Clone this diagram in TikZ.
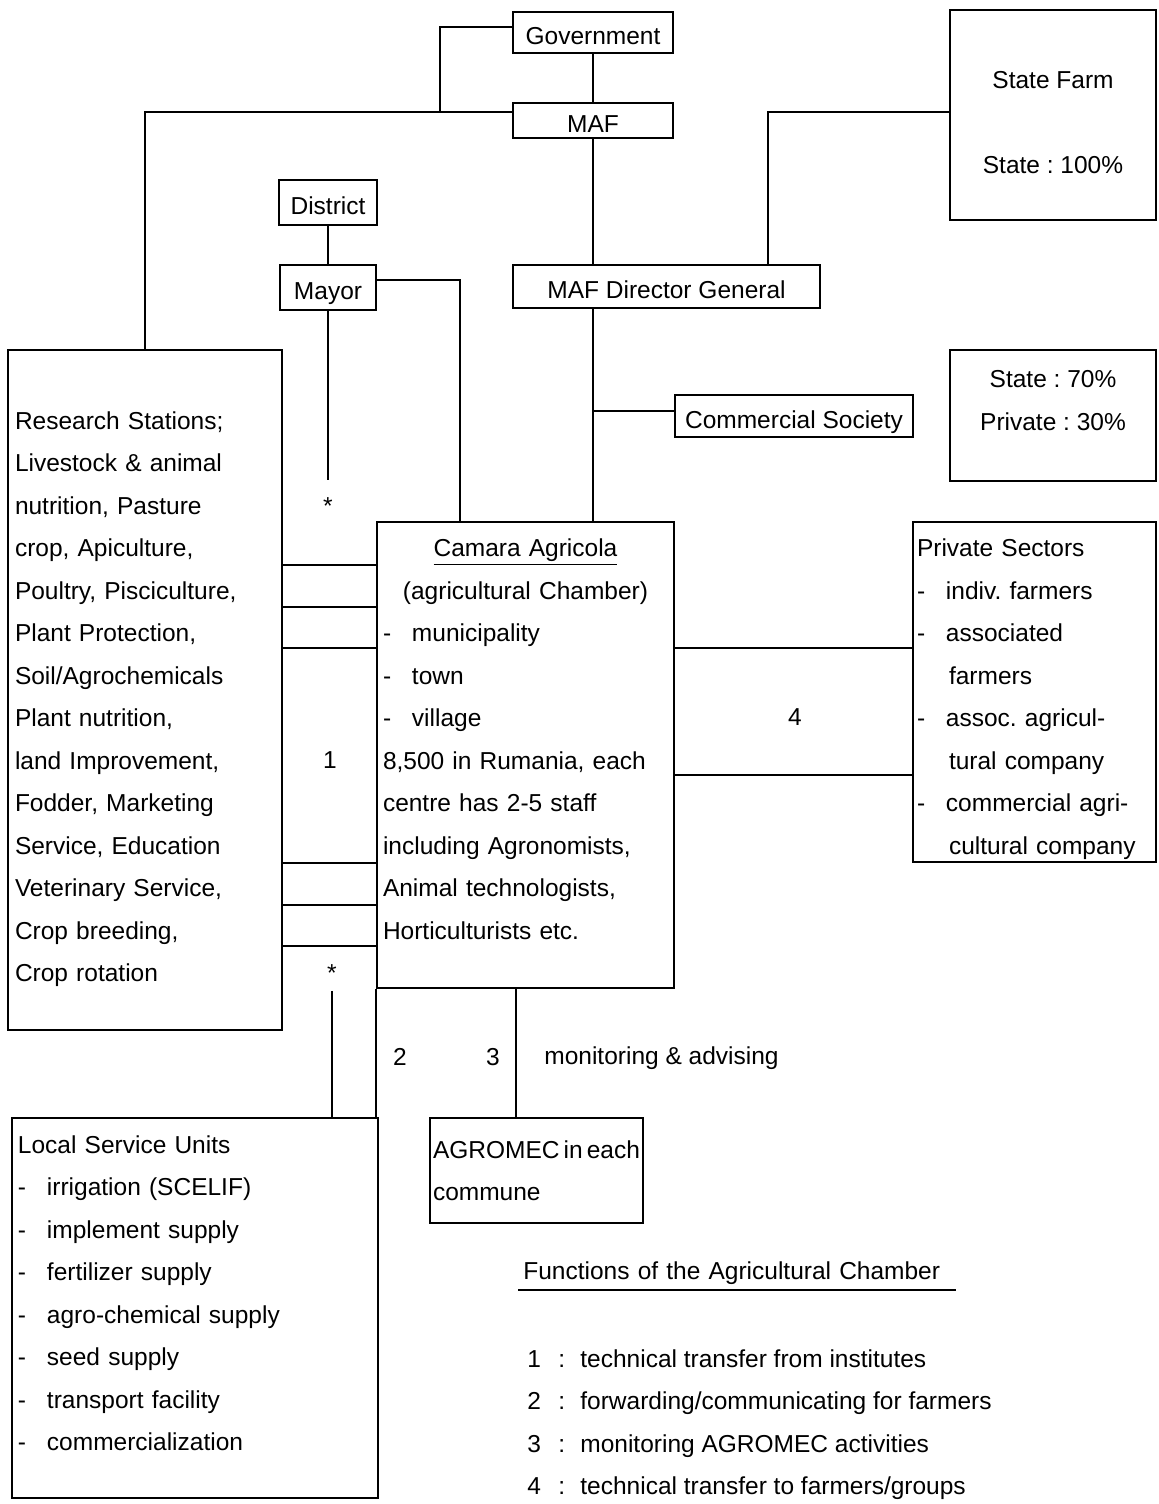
\documentclass[tikz,border=0pt]{standalone}
\usepackage{fontspec}
\setmainfont{Liberation Sans}
\frenchspacing
\usetikzlibrary{positioning,calc}
\newcommand{\chartfont}{\fontsize{12.25pt}{21.25pt}\selectfont\frenchspacing}
\newcommand{\itemdash}{\makebox[14.5pt][l]{-}}
\newcommand{\fnum}[1]{\makebox[15.5pt][l]{#1}\makebox[11pt][l]{:}}
\newcommand{\toppad}[1]{\rule{0pt}{#1}}
\tikzset{
  box/.style={draw,line width=1.2pt,inner sep=0pt,font=\chartfont},
  onebox/.style={box,text height=12pt,text depth=0pt},
  listbox/.style={box,align=left},
  link/.style={line width=0.9pt},
  lbl/.style={font=\chartfont,inner sep=1pt}
}

\begin{document}
\begin{tikzpicture}[x={(0.5pt,0)}, y={(0,-0.5pt)}]
  \useasboundingbox (0,0) rectangle (1158,1504);
  % top of the hierarchy
  \node[onebox,minimum width=80pt,minimum height=20.5pt] (gov) at (593,32.5) {Government};
  \node[onebox,minimum width=80pt,minimum height=17.5pt] (maf) at (593,120.5) {MAF};
  \node[onebox,minimum width=153.5pt,minimum height=21.5pt] (dg) at (666.5,286.5) {MAF Director General};
  \node[box,align=center,minimum width=103pt,minimum height=105pt] (farm) at (1053,115) {\toppad{16.5pt}State Farm\\[21.25pt]State : 100\%};
  \node[box,align=center,minimum width=103pt,minimum height=65.5pt] (share) at (1053,415.5) {\toppad{14.5pt}State : 70\%\\Private : 30\%\\\mbox{}};
  \node[onebox,minimum width=49pt,minimum height=22.5pt] (district) at (328,202.5) {District};
  \node[onebox,minimum width=48pt,minimum height=22.5pt] (mayor) at (328,287.5) {Mayor};
  \node[onebox,minimum width=119pt,minimum height=21pt] (commsoc) at (794,416) {Commercial Society};
  % main boxes
  \node[listbox,minimum width=137pt,minimum height=340pt,text width=130pt,inner xsep=3.5pt] (research) at (145,690) {\toppad{18pt}Research Stations;\\
    Livestock \& animal\\
    nutrition, Pasture\\
    crop, Apiculture,\\
    Poultry, Pisciculture,\\
    Plant Protection,\\
    Soil/Agrochemicals\\
    Plant nutrition,\\
    land Improvement,\\
    Fodder, Marketing\\
    Service, Education\\
    Veterinary Service,\\
    Crop breeding,\\
    Crop rotation};
  \node[listbox,minimum width=148.5pt,minimum height=233pt,text width=142.5pt,inner xsep=3pt] (camara) at (525.5,755) {\toppad{14pt}\makebox[142.5pt]{\underline{Camara Agricola}}\\
    \makebox[142.5pt]{(agricultural Chamber)}\\
    \itemdash municipality\\
    \itemdash town\\
    \itemdash village\\
    8,500 in Rumania, each\\
    centre has 2-5 staff\\
    including Agronomists,\\
    Animal technologists,\\
    Horticulturists etc.\\
    \mbox{}};
  \node[listbox,minimum width=121.5pt,minimum height=170pt,text width=117.5pt,inner xsep=2pt] (private) at (1034.5,692) {\toppad{16pt}Private Sectors\\
    \itemdash indiv. farmers\\
    \itemdash associated\\
    \hspace*{16pt}farmers\\
    \itemdash assoc. agricul-\\
    \hspace*{16pt}tural company\\
    \itemdash commercial agri-\\
    \hspace*{16pt}cultural company};
  \node[listbox,minimum width=183pt,minimum height=190pt,text width=177pt,inner xsep=3pt] (local) at (195,1308) {\toppad{15pt}Local Service Units\\
    \itemdash irrigation (SCELIF)\\
    \itemdash implement supply\\
    \itemdash fertilizer supply\\
    \itemdash agro-chemical supply\\
    \itemdash seed supply\\
    \itemdash transport facility\\
    \itemdash commercialization\\
    \mbox{}};
  \node[listbox,minimum width=106.5pt,minimum height=52.5pt,
    execute at begin node={\spaceskip=0.6\fontdimen2\font}] (agromec) at (536.5,1170.5) {AGROMEC in each\\commune};
  % connections
  \coordinate (mafjoin) at (440,112);
  \draw[link] (research.north) |- (mafjoin) -- (mafjoin -| maf.west);
  \draw[link] ([yshift=2.75pt]gov.west) -| (mafjoin);
  \draw[link] (gov.south) -- (maf.north);
  \draw[link] (maf.south) -- (maf.south |- dg.north);
  \draw[link] ([yshift=1.5pt]farm.west) -| ([xshift=50.75pt]dg.north);
  \draw[link] (district.south) -- (mayor.north);
  \draw[link] ([yshift=3.75pt]mayor.east) -| ([xshift=-32.75pt]camara.north);
  \node[lbl,anchor=base,inner sep=0pt] (star1) at (328,514) {*};
  \draw[link] (mayor.south) -- ([yshift=8.5pt]star1.north);
  \draw[link] (dg.south -| maf.south) -- (camara.north -| maf.south);
  \draw[link] ([yshift=2.5pt]commsoc.west) -- ([yshift=2.5pt]commsoc.west -| maf.south);
  \foreach \y in {565,607,648,863,905,946}
    \draw[link] (research.east |- 0,\y) -- (camara.west |- 0,\y);
  \foreach \y in {648,775}
    \draw[link] (camara.east |- 0,\y) -- (private.west |- 0,\y);
  \node[lbl,anchor=base,inner sep=0pt] (star2) at (332,981.5) {*};
  \draw[link] ([yshift=-4.5pt]star2.south) -- (star2.south |- local.north);
  \draw[line width=1.2pt] (camara.south west) -- (camara.south west |- local.north);
  \draw[link] ([xshift=-4.75pt]camara.south) -- ([xshift=-4.75pt]camara.south |- agromec.north);
  % function numbers
  \node[lbl] (num1) at (330,760) {1};
  \node[lbl] (num2) at (400,1057) {2};
  \node[lbl] (num3) at (493,1057) {3};
  \node[lbl] (num4) at (795,717) {4};
  \node[lbl,anchor=west] (advise) at (542,1058) {monitoring \& advising};
  % legend
  \node[lbl,anchor=west,text width=213.5pt,inner xsep=2.5pt,inner ysep=2.5pt,align=left] (ftitle) at (518,1273) {Functions of the Agricultural Chamber};
  \draw[link] (ftitle.south west) -- (ftitle.south east);
  \node[lbl,anchor=north west,align=left,inner sep=0pt] (flist) at (527,1349) {\fnum{1}technical transfer from institutes\\
    \fnum{2}forwarding/communicating for farmers\\
    \fnum{3}monitoring AGROMEC activities\\
    \fnum{4}technical transfer to farmers/groups};
\end{tikzpicture}
\end{document}
